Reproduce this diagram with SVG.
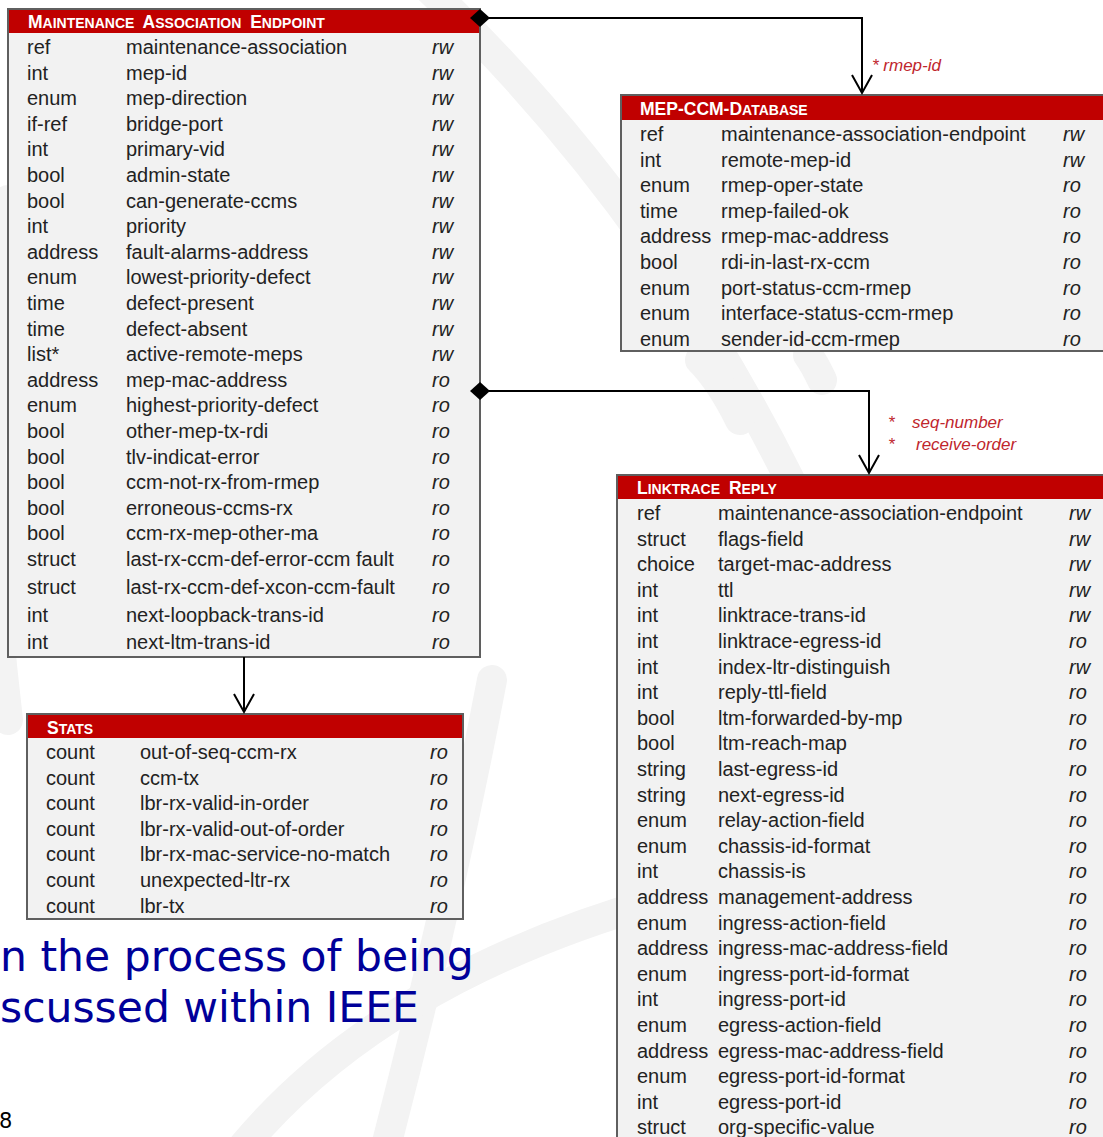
<svg xmlns="http://www.w3.org/2000/svg" width="1103" height="1137" viewBox="0 0 1103 1137">
<style>
.bg{fill:#ffffff}
.wm{fill:none;stroke:#f3f3f3;stroke-width:30;stroke-linecap:round}
.box{fill:#f2f2f2}
.frame{fill:none;stroke:#5f5f5f;stroke-width:2}
.hdr{fill:#c00000}
.h{font-family:"Liberation Sans",Arial,sans-serif;font-weight:bold;font-size:17.5px;fill:#ffffff}
.sc{font-size:14px}
.t{font-family:"Liberation Sans",Arial,sans-serif;font-size:20px;fill:#222222}
.a{font-style:italic}
.lbl{font-family:"Liberation Sans",Arial,sans-serif;font-size:17px;font-style:italic;fill:#c0262d}
.conn{fill:none;stroke:#000000;stroke-width:2}
.blue{font-family:"DejaVu Sans",Verdana,sans-serif;font-size:42.5px;fill:#000099}
.pg{font-family:"DejaVu Sans",Verdana,sans-serif;font-size:21px;fill:#000000}
</style>
<defs>
<marker id="open" markerUnits="userSpaceOnUse" viewBox="-20 -12 23 24" markerWidth="23" markerHeight="24" refX="0" refY="0" orient="auto">
<path d="M -18,-10 L 0,0 L -18,10" fill="none" stroke="#000" stroke-width="2"/>
</marker>
<marker id="dia" markerUnits="userSpaceOnUse" viewBox="-11 -10 22 20" markerWidth="22" markerHeight="20" refX="0" refY="0" orient="auto">
<path d="M -10,0 L 0,-9 L 10,0 L 0,9 Z" fill="#000"/>
</marker>
</defs>
<rect class="bg" x="0" y="0" width="1103" height="1137"/>
<g id="watermark">
<path class="wm" d="M 430,-10 Q 650,200 790,480"/>
<path class="wm" d="M 492,680 Q 450,900 385,1150"/>
<path class="wm" d="M 240,1150 Q 380,980 660,900"/>
<path class="wm" d="M 8,200 Q -25,450 8,720"/>
<path class="wm" d="M 700,360 Q 720,380 740,420"/>
<path class="wm" d="M 808,355 Q 815,365 822,380"/>
</g>
<g id="maintenance-association-endpoint">
<rect class="box" x="8" y="9" width="472" height="648"/>
<rect class="hdr" x="8" y="9" width="472" height="24"/>
<rect class="frame" x="8" y="9" width="472" height="648"/>
<text class="h" x="28" y="28" word-spacing="4">M<tspan class="sc">AINTENANCE</tspan> A<tspan class="sc">SSOCIATION</tspan> E<tspan class="sc">NDPOINT</tspan></text>
<g class="t">
<text y="54"><tspan x="27">ref</tspan><tspan x="126">maintenance-association</tspan><tspan x="432" class="a">rw</tspan></text>
<text y="79.6"><tspan x="27">int</tspan><tspan x="126">mep-id</tspan><tspan x="432" class="a">rw</tspan></text>
<text y="105.2"><tspan x="27">enum</tspan><tspan x="126">mep-direction</tspan><tspan x="432" class="a">rw</tspan></text>
<text y="130.8"><tspan x="27">if-ref</tspan><tspan x="126">bridge-port</tspan><tspan x="432" class="a">rw</tspan></text>
<text y="156.4"><tspan x="27">int</tspan><tspan x="126">primary-vid</tspan><tspan x="432" class="a">rw</tspan></text>
<text y="182"><tspan x="27">bool</tspan><tspan x="126">admin-state</tspan><tspan x="432" class="a">rw</tspan></text>
<text y="207.6"><tspan x="27">bool</tspan><tspan x="126">can-generate-ccms</tspan><tspan x="432" class="a">rw</tspan></text>
<text y="233.2"><tspan x="27">int</tspan><tspan x="126">priority</tspan><tspan x="432" class="a">rw</tspan></text>
<text y="258.8"><tspan x="27">address</tspan><tspan x="126">fault-alarms-address</tspan><tspan x="432" class="a">rw</tspan></text>
<text y="284.4"><tspan x="27">enum</tspan><tspan x="126">lowest-priority-defect</tspan><tspan x="432" class="a">rw</tspan></text>
<text y="310"><tspan x="27">time</tspan><tspan x="126">defect-present</tspan><tspan x="432" class="a">rw</tspan></text>
<text y="335.6"><tspan x="27">time</tspan><tspan x="126">defect-absent</tspan><tspan x="432" class="a">rw</tspan></text>
<text y="361.2"><tspan x="27">list*</tspan><tspan x="126">active-remote-meps</tspan><tspan x="432" class="a">rw</tspan></text>
<text y="386.8"><tspan x="27">address</tspan><tspan x="126">mep-mac-address</tspan><tspan x="432" class="a">ro</tspan></text>
<text y="412.4"><tspan x="27">enum</tspan><tspan x="126">highest-priority-defect</tspan><tspan x="432" class="a">ro</tspan></text>
<text y="438"><tspan x="27">bool</tspan><tspan x="126">other-mep-tx-rdi</tspan><tspan x="432" class="a">ro</tspan></text>
<text y="463.6"><tspan x="27">bool</tspan><tspan x="126">tlv-indicat-error</tspan><tspan x="432" class="a">ro</tspan></text>
<text y="489.2"><tspan x="27">bool</tspan><tspan x="126">ccm-not-rx-from-rmep</tspan><tspan x="432" class="a">ro</tspan></text>
<text y="514.8"><tspan x="27">bool</tspan><tspan x="126">erroneous-ccms-rx</tspan><tspan x="432" class="a">ro</tspan></text>
<text y="540.4"><tspan x="27">bool</tspan><tspan x="126">ccm-rx-mep-other-ma</tspan><tspan x="432" class="a">ro</tspan></text>
<text y="566"><tspan x="27">struct</tspan><tspan x="126">last-rx-ccm-def-error-ccm fault</tspan><tspan x="432" class="a">ro</tspan></text>
<text y="594"><tspan x="27">struct</tspan><tspan x="126">last-rx-ccm-def-xcon-ccm-fault</tspan><tspan x="432" class="a">ro</tspan></text>
<text y="621.5"><tspan x="27">int</tspan><tspan x="126">next-loopback-trans-id</tspan><tspan x="432" class="a">ro</tspan></text>
<text y="649"><tspan x="27">int</tspan><tspan x="126">next-ltm-trans-id</tspan><tspan x="432" class="a">ro</tspan></text>
</g>
</g>
<g id="mep-ccm-database">
<rect class="box" x="621" y="95" width="495" height="256"/>
<rect class="hdr" x="621" y="95" width="495" height="25"/>
<rect class="frame" x="621" y="95" width="495" height="256"/>
<text class="h" x="640" y="115">MEP-CCM-D<tspan class="sc">ATABASE</tspan></text>
<g class="t">
<text y="141"><tspan x="640">ref</tspan><tspan x="721">maintenance-association-endpoint</tspan><tspan x="1063" class="a">rw</tspan></text>
<text y="166.6"><tspan x="640">int</tspan><tspan x="721">remote-mep-id</tspan><tspan x="1063" class="a">rw</tspan></text>
<text y="192.2"><tspan x="640">enum</tspan><tspan x="721">rmep-oper-state</tspan><tspan x="1063" class="a">ro</tspan></text>
<text y="217.8"><tspan x="640">time</tspan><tspan x="721">rmep-failed-ok</tspan><tspan x="1063" class="a">ro</tspan></text>
<text y="243.4"><tspan x="640">address</tspan><tspan x="721">rmep-mac-address</tspan><tspan x="1063" class="a">ro</tspan></text>
<text y="269"><tspan x="640">bool</tspan><tspan x="721">rdi-in-last-rx-ccm</tspan><tspan x="1063" class="a">ro</tspan></text>
<text y="294.6"><tspan x="640">enum</tspan><tspan x="721">port-status-ccm-rmep</tspan><tspan x="1063" class="a">ro</tspan></text>
<text y="320.2"><tspan x="640">enum</tspan><tspan x="721">interface-status-ccm-rmep</tspan><tspan x="1063" class="a">ro</tspan></text>
<text y="345.8"><tspan x="640">enum</tspan><tspan x="721">sender-id-ccm-rmep</tspan><tspan x="1063" class="a">ro</tspan></text>
</g>
</g>
<g id="linktrace-reply">
<rect class="box" x="617" y="475" width="500" height="680"/>
<rect class="hdr" x="617" y="475" width="500" height="24"/>
<rect class="frame" x="617" y="475" width="500" height="680"/>
<text class="h" x="637" y="494" word-spacing="4">L<tspan class="sc">INKTRACE</tspan> R<tspan class="sc">EPLY</tspan></text>
<g class="t">
<text y="520"><tspan x="637">ref</tspan><tspan x="718">maintenance-association-endpoint</tspan><tspan x="1069" class="a">rw</tspan></text>
<text y="545.6"><tspan x="637">struct</tspan><tspan x="718">flags-field</tspan><tspan x="1069" class="a">rw</tspan></text>
<text y="571.2"><tspan x="637">choice</tspan><tspan x="718">target-mac-address</tspan><tspan x="1069" class="a">rw</tspan></text>
<text y="596.8"><tspan x="637">int</tspan><tspan x="718">ttl</tspan><tspan x="1069" class="a">rw</tspan></text>
<text y="622.4"><tspan x="637">int</tspan><tspan x="718">linktrace-trans-id</tspan><tspan x="1069" class="a">rw</tspan></text>
<text y="648"><tspan x="637">int</tspan><tspan x="718">linktrace-egress-id</tspan><tspan x="1069" class="a">ro</tspan></text>
<text y="673.6"><tspan x="637">int</tspan><tspan x="718">index-ltr-distinguish</tspan><tspan x="1069" class="a">rw</tspan></text>
<text y="699.2"><tspan x="637">int</tspan><tspan x="718">reply-ttl-field</tspan><tspan x="1069" class="a">ro</tspan></text>
<text y="724.8"><tspan x="637">bool</tspan><tspan x="718">ltm-forwarded-by-mp</tspan><tspan x="1069" class="a">ro</tspan></text>
<text y="750.4"><tspan x="637">bool</tspan><tspan x="718">ltm-reach-map</tspan><tspan x="1069" class="a">ro</tspan></text>
<text y="776"><tspan x="637">string</tspan><tspan x="718">last-egress-id</tspan><tspan x="1069" class="a">ro</tspan></text>
<text y="801.6"><tspan x="637">string</tspan><tspan x="718">next-egress-id</tspan><tspan x="1069" class="a">ro</tspan></text>
<text y="827.2"><tspan x="637">enum</tspan><tspan x="718">relay-action-field</tspan><tspan x="1069" class="a">ro</tspan></text>
<text y="852.8"><tspan x="637">enum</tspan><tspan x="718">chassis-id-format</tspan><tspan x="1069" class="a">ro</tspan></text>
<text y="878.4"><tspan x="637">int</tspan><tspan x="718">chassis-is</tspan><tspan x="1069" class="a">ro</tspan></text>
<text y="904"><tspan x="637">address</tspan><tspan x="718">management-address</tspan><tspan x="1069" class="a">ro</tspan></text>
<text y="929.6"><tspan x="637">enum</tspan><tspan x="718">ingress-action-field</tspan><tspan x="1069" class="a">ro</tspan></text>
<text y="955.2"><tspan x="637">address</tspan><tspan x="718">ingress-mac-address-field</tspan><tspan x="1069" class="a">ro</tspan></text>
<text y="980.8"><tspan x="637">enum</tspan><tspan x="718">ingress-port-id-format</tspan><tspan x="1069" class="a">ro</tspan></text>
<text y="1006.4"><tspan x="637">int</tspan><tspan x="718">ingress-port-id</tspan><tspan x="1069" class="a">ro</tspan></text>
<text y="1032"><tspan x="637">enum</tspan><tspan x="718">egress-action-field</tspan><tspan x="1069" class="a">ro</tspan></text>
<text y="1057.6"><tspan x="637">address</tspan><tspan x="718">egress-mac-address-field</tspan><tspan x="1069" class="a">ro</tspan></text>
<text y="1083.2"><tspan x="637">enum</tspan><tspan x="718">egress-port-id-format</tspan><tspan x="1069" class="a">ro</tspan></text>
<text y="1108.8"><tspan x="637">int</tspan><tspan x="718">egress-port-id</tspan><tspan x="1069" class="a">ro</tspan></text>
<text y="1134.4"><tspan x="637">struct</tspan><tspan x="718">org-specific-value</tspan><tspan x="1069" class="a">ro</tspan></text>
</g>
</g>
<g id="stats">
<rect class="box" x="27" y="714" width="436" height="205"/>
<rect class="hdr" x="27" y="714" width="436" height="24"/>
<rect class="frame" x="27" y="714" width="436" height="205"/>
<text class="h" x="47" y="734">S<tspan class="sc">TATS</tspan></text>
<g class="t">
<text y="759"><tspan x="46">count</tspan><tspan x="140">out-of-seq-ccm-rx</tspan><tspan x="430" class="a">ro</tspan></text>
<text y="784.6"><tspan x="46">count</tspan><tspan x="140">ccm-tx</tspan><tspan x="430" class="a">ro</tspan></text>
<text y="810.2"><tspan x="46">count</tspan><tspan x="140">lbr-rx-valid-in-order</tspan><tspan x="430" class="a">ro</tspan></text>
<text y="835.8"><tspan x="46">count</tspan><tspan x="140">lbr-rx-valid-out-of-order</tspan><tspan x="430" class="a">ro</tspan></text>
<text y="861.4"><tspan x="46">count</tspan><tspan x="140">lbr-rx-mac-service-no-match</tspan><tspan x="430" class="a">ro</tspan></text>
<text y="887"><tspan x="46">count</tspan><tspan x="140">unexpected-ltr-rx</tspan><tspan x="430" class="a">ro</tspan></text>
<text y="912.6"><tspan x="46">count</tspan><tspan x="140">lbr-tx</tspan><tspan x="430" class="a">ro</tspan></text>
</g>
</g>
<g id="connectors">
<path class="conn" d="M 480,18 H 862 V 93" marker-start="url(#dia)" marker-end="url(#open)"/>
<path class="conn" d="M 480,391 H 869 V 473" marker-start="url(#dia)" marker-end="url(#open)"/>
<path class="conn" d="M 244,657 V 712" marker-end="url(#open)"/>
</g>
<g id="connector-labels">
<text class="lbl" x="872" y="71">* rmep-id</text>
<text class="lbl" x="888" y="428">*</text>
<text class="lbl" x="912" y="428">seq-number</text>
<text class="lbl" x="888" y="450">*</text>
<text class="lbl" x="916" y="450">receive-order</text>
</g>
<g id="slide-text">
<text class="blue" x="0" y="971">n the process of being</text>
<text class="blue" x="0" y="1022">scussed within IEEE</text>
<text class="pg" x="-1" y="1128">8</text>
</g>
</svg>
